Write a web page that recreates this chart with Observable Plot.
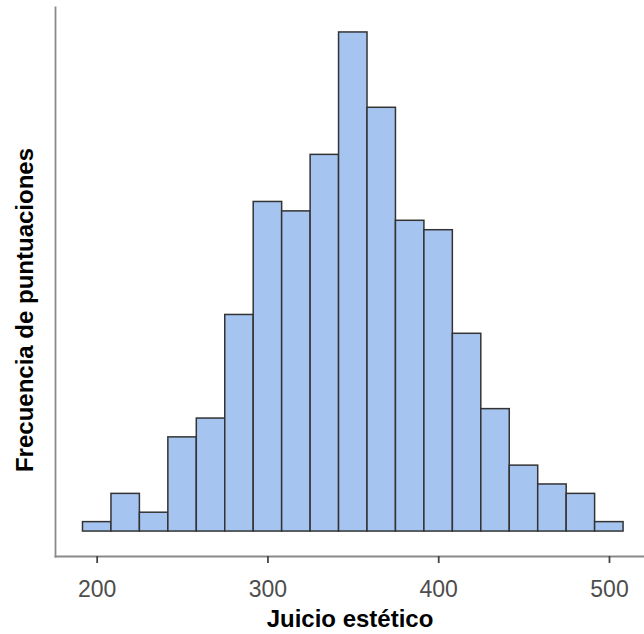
<!DOCTYPE html>
<html>
<head>
<meta charset="utf-8">
<script src="https://cdn.jsdelivr.net/npm/d3@7"></script>
<script src="https://cdn.jsdelivr.net/npm/@observablehq/plot@0.6"></script>
<style>
  html, body { margin: 0; padding: 0; background: #fff; }
  #chart svg { display: block; }
</style>
</head>
<body>
<div id="chart"></div>
<script>
// Histogram bin edges (score units) and the number of scores in each bin
const binEdges = [191.70, 208.36, 225.02, 241.68, 258.34, 275.00, 291.66, 308.32, 324.98, 341.64,
                  358.30, 374.96, 391.62, 408.28, 424.94, 441.60, 458.26, 474.92, 491.58, 508.24];
const binCounts = [1, 4, 2, 10, 12, 23, 35, 34, 40, 53, 45, 33, 32, 21, 13, 7, 5, 4, 1];
const xTicks = [200, 300, 400, 500];
const xTitle = "Juicio estético";
const yTitle = "Frecuencia de puntuaciones";

const bins = binCounts.map((count, i) => ({x1: binEdges[i], x2: binEdges[i + 1], count}));

const font = "'Liberation Sans', Arial, Helvetica, sans-serif";

const chart = Plot.plot({
  width: 644,
  height: 634,
  marginLeft: 55,
  marginRight: 0,
  marginTop: 7,
  marginBottom: 78,
  style: {fontFamily: font, background: "#fff"},
  x: {domain: [175.6, 520.5]},
  y: {domain: [-2.65, 55.65]},
  marks: [
    Plot.rectY(bins, {
      x1: "x1", x2: "x2", y1: 0, y2: "count",
      fill: "#a6c4f0", stroke: "#333333", strokeWidth: 1.5, inset: 0
    }),
    Plot.frame({anchor: "left", stroke: "#8a8a8a", strokeWidth: 1.8}),
    Plot.frame({anchor: "bottom", stroke: "#8a8a8a", strokeWidth: 1.8}),
    Plot.axisX({
      ticks: xTicks, tickSize: 7, tickPadding: 17, label: null,
      stroke: "#444", strokeWidth: 1.8, fill: "#4d4d4d", fontSize: 23
    }),
    Plot.axisY({ticks: [], label: null}),
    Plot.text([xTitle], {
      frameAnchor: "bottom", lineAnchor: "middle", textAnchor: "middle", dy: 63,
      fontSize: 24, fontWeight: "bold", fill: "#000"
    }),
    Plot.text([yTitle], {
      frameAnchor: "left", lineAnchor: "middle", textAnchor: "middle",
      dx: -30, dy: 28, rotate: -90,
      fontSize: 24, fontWeight: "bold", fill: "#000"
    })
  ]
});

document.getElementById("chart").appendChild(chart);
</script>
</body>
</html>
